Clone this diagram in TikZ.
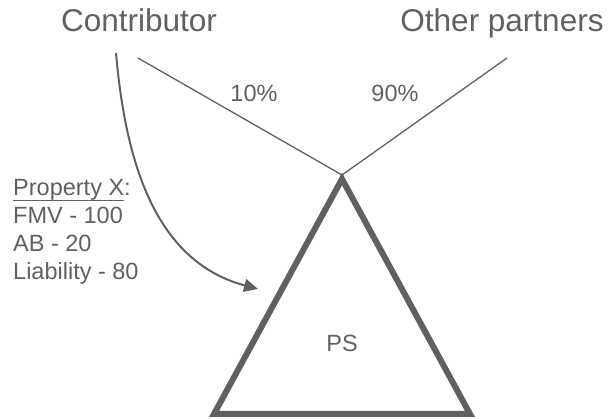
\documentclass[tikz,border=0pt]{standalone}
\usepackage{fontspec}
\setmainfont{Liberation Sans}
\usetikzlibrary{arrows.meta,positioning}
\definecolor{psgray}{RGB}{96,96,96}
\newcommand{\ulined}[1]{\setbox0\hbox{#1}\rlap{\rule[-5pt]{\wd0}{1pt}}#1}

\begin{document}
\begin{tikzpicture}[x=1pt,y=1pt, >={Triangle[length=14pt,width=13pt]},
    party/.style={inner sep=0pt, anchor=base, text=psgray, font=\fontsize{31.5}{36}\selectfont},
    small/.style={inner sep=0pt, text=psgray, font=\fontsize{23.5}{28}\selectfont},
    share/.style={draw=psgray, line width=1.3pt},
    entity/.style={draw=psgray, line width=6pt, line join=miter}]

  \useasboundingbox (0,0) rectangle (611,-419);

  \node[party] (contrib) at (139,-32) {Contributor};
  \node[party] (others) at (502,-32) {Other partners};

  \coordinate (apex) at (342,-179);
  \coordinate (left) at (214,-414);
  \coordinate (right) at (470,-414);
  \draw[entity] (apex) -- (left) -- (right) -- cycle;
  \node[small] (ps) at (342,-343) {PS};

  \coordinate (top) at (342,-175);
  \coordinate (c1) at (138,-58);
  \coordinate (o1) at (507,-58);
  \coordinate (c2) at (116,-53);
  \coordinate (tip) at (258,-289);
  \draw[share] (c1) -- (top);
  \draw[share] (o1) -- (top);
  \node[small, anchor=base] (ten) at (254,-102) {10\%};
  \node[small, anchor=base] (ninety) at (395,-102) {90\%};

  \draw[draw=psgray, line width=2pt, ->, psgray] (c2) to[out=-85, in=165] (tip);

  \node[small, anchor=base west, align=left] (prop) at (13,-280)
    {\ulined{Property X}:\\FMV - 100\\AB - 20\\Liability - 80};
\end{tikzpicture}
\end{document}
